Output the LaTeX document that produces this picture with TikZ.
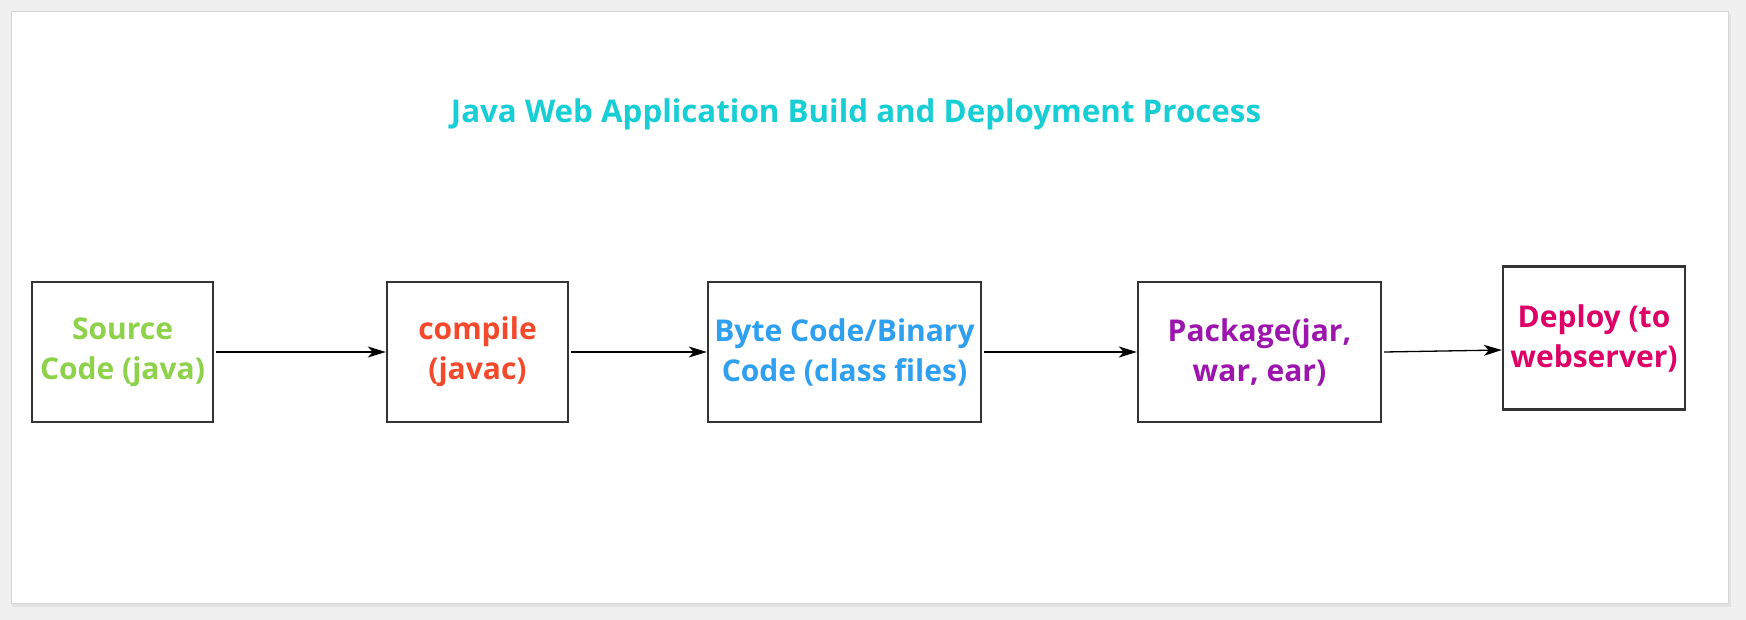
\documentclass[tikz,border=0pt]{standalone}
\usepackage{fontspec}
\setmainfont{Open Sans}
\usetikzlibrary{arrows.meta}
\definecolor{pagegray}{HTML}{F0F0F0}
\definecolor{cardedge}{HTML}{D6D6D6}
\definecolor{boxline}{HTML}{333333}
\definecolor{titlecyan}{HTML}{17CED5}
\definecolor{srcgreen}{HTML}{8ED14A}
\definecolor{compred}{HTML}{F4492A}
\definecolor{bytblue}{HTML}{2F9FF0}
\definecolor{pkgpurple}{HTML}{9C16AE}
\definecolor{depmagenta}{HTML}{DD0066}
\tikzset{
  stage/.style={draw=boxline, line width=2.4pt, fill=white, minimum height=140pt,
    align=center, font=\bfseries\fontsize{30}{40}\selectfont, inner sep=0pt},
  flow/.style={draw, line width=1.3pt, -{Stealth[length=18pt,width=11pt,inset=5pt]}}
}
\begin{document}
\begin{tikzpicture}[x=1pt,y=-1pt]
\useasboundingbox (0,0) rectangle (1746,620);
\fill[pagegray] (0,0) rectangle (1746,620);
% card with shadow
\fill[black!6] (14,16) rectangle (1735,613);
\fill[black!11] (12,14) rectangle (1731,607);
\filldraw[fill=white, draw=cardedge, line width=1pt] (11,12) rectangle (1728,603);

\node[font=\bfseries\fontsize{31.3}{40}\selectfont, text=titlecyan] (title) at (856,114) {Java Web Application Build and Deployment Process};

\node[stage, minimum width=181pt, text=srcgreen] (src) at (122.5,352) {Source\\Code (java)};
\node[stage, minimum width=181pt, text=compred] (comp) at (477.5,352) {compile\\(javac)};
\node[stage, minimum width=273pt, text=bytblue] (byte) at (844.5,352) {Byte Code/Binary\\Code (class files)};
\node[stage, minimum width=243pt, text=pkgpurple] (pkg) at (1259.5,352) {Package(jar,\\war, ear)};
\node[stage, minimum width=182pt, minimum height=143pt, text=depmagenta] (dep) at (1594,338) {Deploy (to\\webserver)};

\path[flow] ([xshift=2pt]src.east) -- (comp.west);
\path[flow] ([xshift=2pt]comp.east) -- (byte.west);
\path[flow] ([xshift=2pt]byte.east) -- (pkg.west);
\path[flow] ([xshift=2pt]pkg.east) -- ([yshift=-12pt]dep.west);
\end{tikzpicture}
\end{document}
